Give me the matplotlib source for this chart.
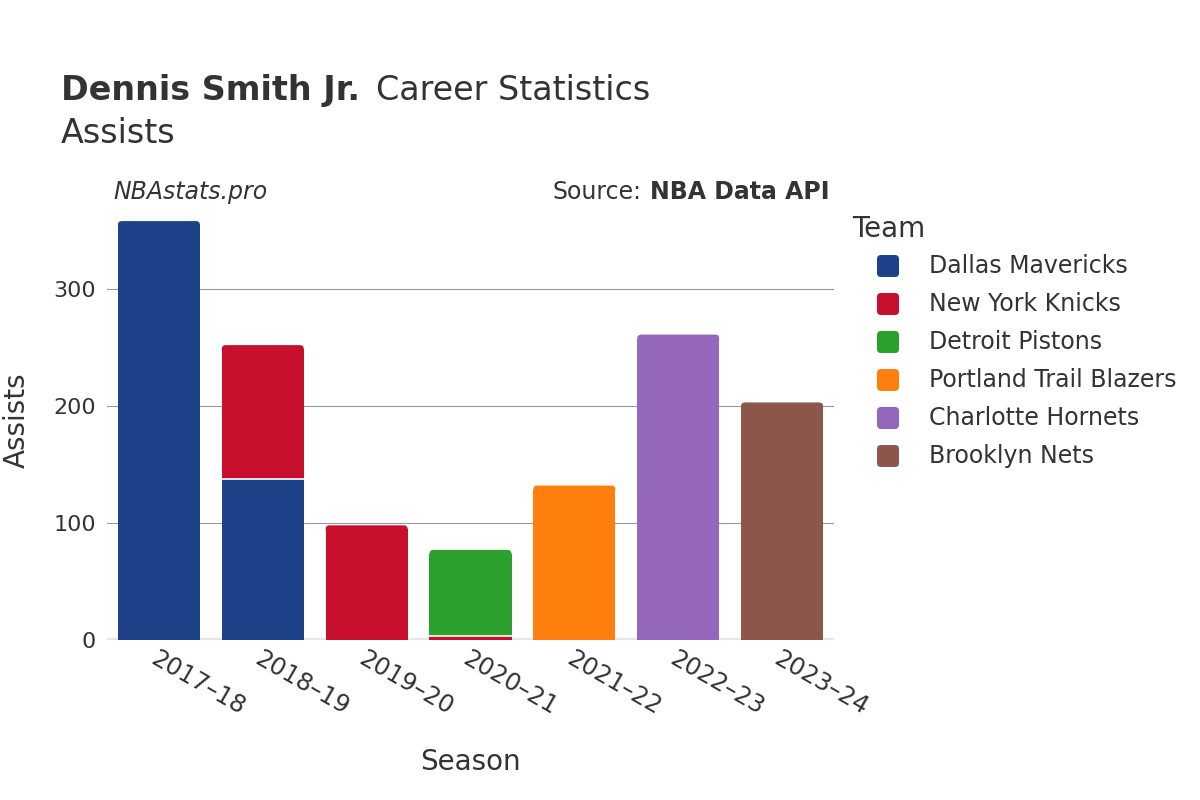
import matplotlib
matplotlib.use("Agg")
import matplotlib.pyplot as plt
import numpy as np
from matplotlib.patches import FancyBboxPatch
from matplotlib.transforms import IdentityTransform

seasons = ["2017–18", "2018–19", "2019–20", "2020–21", "2021–22", "2022–23", "2023–24"]
teams = ["Dallas Mavericks", "New York Knicks", "Detroit Pistons",
         "Portland Trail Blazers", "Charlotte Hornets", "Brooklyn Nets"]
colors = ["#1d428a", "#c8102e", "#2ca02c", "#ff7f0e", "#9467bd", "#8c564b"]

# assists per season, one list per team (stack order = team order)
dallas = [358, 138, 0, 0, 0, 0, 0]
knicks = [0, 114, 98, 3, 0, 0, 0]
pistons = [0, 0, 0, 74, 0, 0, 0]
portland = [0, 0, 0, 0, 132, 0, 0]
charlotte = [0, 0, 0, 0, 0, 261, 0]
brooklyn = [0, 0, 0, 0, 0, 0, 203]
series = [dallas, knicks, pistons, portland, charlotte, brooklyn]

plt.rcParams["font.family"] = ["DejaVu Sans"]
TXT = "#333333"

fig = plt.figure(figsize=(12, 8), dpi=100)
ax = fig.add_axes([107 / 1200, 0.2, 727 / 1200, 0.55])

YMAX = 376
W = 0.79
x = np.arange(len(seasons))
ax.set_xlim(-0.5, len(seasons) - 0.5)
ax.set_ylim(0, YMAX)

# corner radius of 4 px, converted to data units
rx = 4 * len(seasons) / 727
ry = 4 * YMAX / 440

totals = np.sum(np.array(series, dtype=float), axis=0)
bottom = np.zeros(len(seasons))
for vals, c in zip(series, colors):
    v = np.array(vals, dtype=float)
    for i in range(len(seasons)):
        if v[i] <= 0:
            continue
        top = bottom[i] + v[i]
        if np.isclose(top, totals[i]) and v[i] > 2 * ry:
            # square lower part + rounded cap
            ax.bar(x[i], v[i] - ry, width=W, bottom=bottom[i], color=c,
                   linewidth=0, zorder=3)
            ax.add_patch(FancyBboxPatch((x[i] - W / 2, top - 2 * ry), W, 2 * ry,
                                        boxstyle=f"round,pad=0,rounding_size={rx}",
                                        mutation_aspect=ry / rx, facecolor=c,
                                        edgecolor="none", zorder=3))
        else:
            ax.bar(x[i], v[i], width=W, bottom=bottom[i], color=c,
                   linewidth=0, zorder=3)
        if bottom[i] > 0:
            ax.hlines(bottom[i], x[i] - W / 2, x[i] + W / 2, color="white",
                      linewidth=1.2, zorder=4)
    bottom += v

ax.set_yticks([0, 100, 200, 300])
ax.grid(axis="y", color="#999999", linewidth=0.8, zorder=0)
ax.axhline(0, color="#e6e6e6", linewidth=3, zorder=2)
for s in ax.spines.values():
    s.set_visible(False)
ax.tick_params(length=0, labelsize=16, colors=TXT, pad=8)
ax.set_xticks(x)
ax.set_xticklabels(seasons, rotation=-30, ha="left", rotation_mode="anchor",
                   fontsize=17.5)
ax.tick_params(axis="x", pad=5)
ax.set_xlabel("Season", fontsize=20, color=TXT, labelpad=20)
ax.set_ylabel("Assists", fontsize=20, color=TXT, labelpad=16)

# titles
fig.text(61 / 1200, 1 - 100 / 800, "Dennis Smith Jr.", fontsize=24,
         fontweight="bold", color=TXT)
fig.text(376 / 1200, 1 - 100 / 800, "Career Statistics", fontsize=24, color=TXT)
fig.text(61 / 1200, 1 - 143 / 800, "Assists", fontsize=24, color=TXT)
fig.text(113 / 1200, 1 - 199 / 800, "NBAstats.pro", fontsize=17,
         style="italic", color=TXT)
fig.text(830 / 1200, 1 - 199 / 800, "NBA Data API", fontsize=17,
         fontweight="bold", color=TXT, ha="right")
fig.text(641 / 1200, 1 - 199 / 800, "Source:", fontsize=17, color=TXT, ha="right")

# legend
fig.text(852 / 1200, 1 - 237 / 800, "Team", fontsize=20, color=TXT)
for i, (t, c) in enumerate(zip(teams, colors)):
    yc = 800 - (266 + 38 * i)
    fig.add_artist(FancyBboxPatch((877, yc - 11), 22, 22,
                                  boxstyle="round,pad=0,rounding_size=4",
                                  transform=IdentityTransform(),
                                  facecolor=c, edgecolor="none"))
    fig.text(929 / 1200, yc / 800, t, fontsize=17, color=TXT, va="center")

fig.savefig("out.png", dpi=100, facecolor="white")
